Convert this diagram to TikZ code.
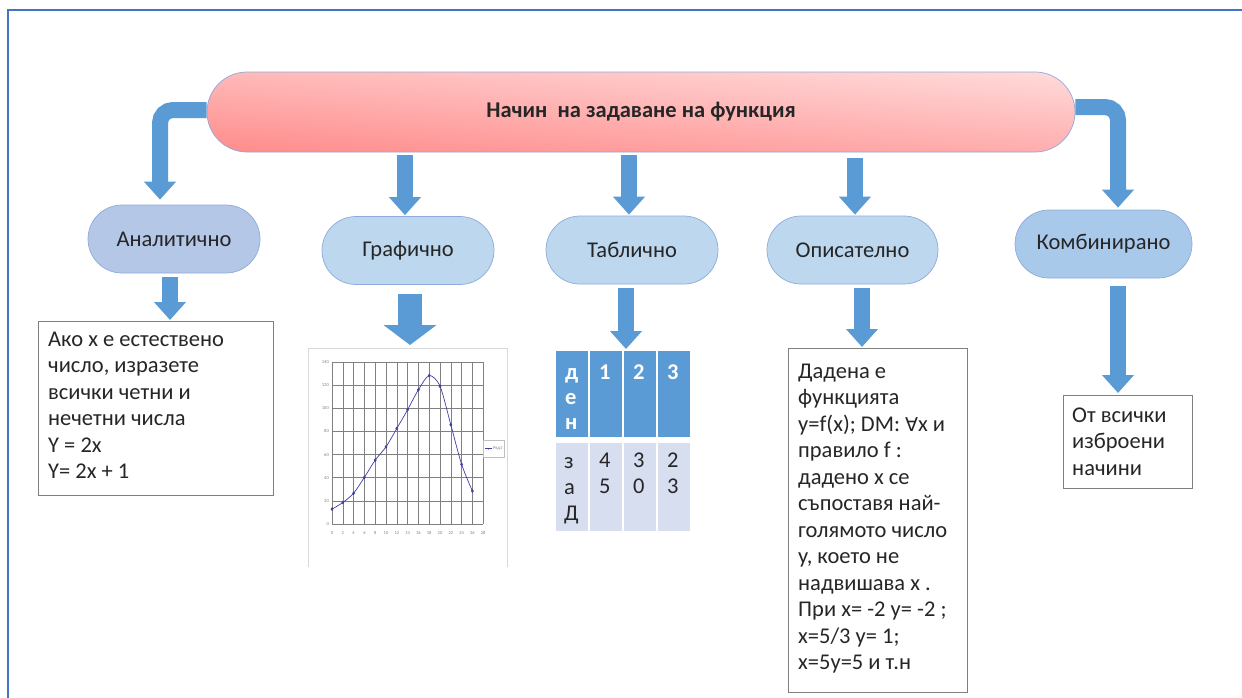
\documentclass[tikz,border=0pt]{standalone}
\usepackage{fontspec}
\setmainfont{Carlito}
\newfontfamily\dejavu{DejaVu Sans}
\usetikzlibrary{arrows.meta,calc,plotmarks}
\definecolor{frameblue}{HTML}{4472C4}
\definecolor{arrowblue}{HTML}{5B9BD5}
\definecolor{pillA}{HTML}{B4C7E7}
\definecolor{pillB}{HTML}{BDD7EE}
\definecolor{pillC}{HTML}{A9C9EA}
\definecolor{pillborder}{HTML}{8EAADB}
\definecolor{pinktop}{HTML}{FFD8D8}
\definecolor{pinkbot}{HTML}{FF8E8E}
\definecolor{boxborder}{HTML}{7F7F7F}
\definecolor{cellhead}{HTML}{5B9BD5}
\definecolor{cellbody}{HTML}{D6DEEF}
\definecolor{gridgrey}{HTML}{808080}
\definecolor{curveblue}{HTML}{3F3FA0}
\definecolor{txt}{HTML}{262626}
\begin{document}
\begin{tikzpicture}[x=1pt,y=-1pt,
  pill/.style={draw=pillborder, line width=0.7pt, rounded corners=34pt, minimum width=172pt, minimum height=68pt, inner sep=0pt, font=\fontsize{22.5}{26}\selectfont, text=txt},
  blk/.style={draw=arrowblue, line width=16pt, -{Triangle[width=31pt,length=18pt]}},
  bigblk/.style={draw=arrowblue, line width=24pt, -{Triangle[width=52pt,length=20pt]}},
  tbox/.style={draw=boxborder, line width=0.8pt, anchor=north west, inner sep=0pt},
  btext/.style={anchor=base west, align=left, inner sep=0pt, text=txt, font=\fontsize{22.5}{26.5}\selectfont},
  hcell/.style={fill=cellhead, anchor=north west, inner sep=0pt, minimum width=32pt, minimum height=86pt},
  bcell/.style={fill=cellbody, anchor=north west, inner sep=0pt, minimum width=32pt, minimum height=88pt},
  htext/.style={anchor=base west, align=left, inner sep=0pt, text=white, font=\bfseries\fontsize{22.5}{25}\selectfont},
  ctext/.style={anchor=base west, align=left, inner sep=0pt, text=txt, font=\fontsize{22.5}{26}\selectfont},
  tiny/.style={inner sep=0pt, text=gray, font=\fontsize{4.5}{5}\selectfont}
]
\useasboundingbox (0,0) rectangle (1242,697);
\fill[white] (0,0) rectangle (1242,697);
\begin{scope}
\clip (0,0) rectangle (1242,697);
\draw[frameblue, line width=2.5pt] (8,10) rectangle (1270,720);
\end{scope}

% title
\node[draw=pillborder, line width=0.7pt, rounded corners=40pt, minimum width=868pt, minimum height=80pt,
  top color=pinktop, bottom color=pinkbot, shading angle=-4, font=\bfseries\fontsize{22.5}{26}\selectfont, text=txt] (title) at (641,112) {Начин\ \ на задаване на функция};

% category pills
\node[pill, fill=pillA] (analit) at (174,239) {Аналитично};
\node[pill, fill=pillB] (graf) at (408,250.5) {Графично};
\node[pill, fill=pillB] (tabl) at (632,250) {Таблично};
\node[pill, fill=pillB, minimum width=171pt] (opis) at (852.5,250) {Описателно};
\node[pill, fill=pillC, minimum width=177pt] (komb) at (1103.5,244) {Комбинирано};

% boxes (text nodes anchored at the baseline of their last line)
\node[tbox, minimum width=235pt, minimum height=174pt] (abox) at (38,321) {};
\node[btext] at ($(abox.north west)+(10,157.5)$) {Ако x е естествено\\число, изразете\\всички четни и\\нечетни числа\\Y = 2x\\Y= 2x + 1};

\node[tbox, minimum width=179pt, minimum height=344pt] (obox) at (788,348) {};
\node[btext] at ($(obox.north west)+(10,321.5)$) {Дадена е\\функцията\\y=f(x); DM: {\dejavu\fontsize{19}{26}\selectfont ∀}x и\\правило f :\\дадено x се\\съпоставя най-\\голямото число\\y, което не\\надвишава x .\\При x= -2 y= -2 ;\\x=5/3 y= 1;\\x=5y=5 и т.н};

\node[tbox, minimum width=129pt, minimum height=93pt] (kbox) at (1063,395) {};
\node[btext] at ($(kbox.north west)+(9,80)$) {От всички\\изброени\\начини};

% graph
\node[anchor=north west, inner sep=0pt, minimum width=199pt, minimum height=219pt] (gframe) at (308,348) {};
\draw[black!15, line width=0.8pt] (gframe.south west) -- (gframe.north west) -- (gframe.north east) -- (gframe.south east);
\foreach \v in {0,20,...,140} {
  \draw[gridgrey, line width=0.6pt] (332,{524-\v*1.157}) -- (483,{524-\v*1.157});
  \node[tiny, anchor=east] at (329,{524-\v*1.157}) {\v};
}
\foreach \i in {0,...,14} {
  \draw[gridgrey, line width=0.6pt] ({332+\i*10.8},362) -- ({332+\i*10.8},524);
  \pgfmathtruncatemacro{\lab}{2*\i}
  \node[tiny] at ({332+\i*10.8},533) {\lab};
}
\draw[curveblue, line width=0.7pt, mark=diamond*, mark size=1.3pt, mark options={fill=curveblue}] plot[smooth] coordinates {
(332,509.1) (342.8,502.5) (353.6,493.2) (364.4,477.3) (375.2,460.1) (386,446.8) (396.8,428.5)
(407.6,409.7) (418.4,389.8) (429.2,375.6) (440,386.2) (450.8,424.7) (461.6,464.3) (472.4,491.0)};
\node[draw=black!25, fill=white, line width=0.4pt, anchor=north west, minimum width=21pt, minimum height=17pt, inner sep=0pt] (legend) at (483,440) {};
\draw[curveblue, line width=0.5pt] ($(legend.west)+(2,0)$) -- ($(legend.west)+(9,0)$);
\fill[curveblue] ($(legend.west)+(5.5,0)$) circle (0.9pt);
\node[tiny, anchor=west] at ($(legend.west)+(10,0)$) {Ряд1};

% table
\node[hcell] (h1) at (556,351) {};
\node[hcell] (h2) at (590,351) {};
\node[hcell] (h3) at (624,351) {};
\node[hcell] (h4) at (658,351) {};
\node[bcell] (b1) at (556,443) {};
\node[bcell] (b2) at (590,443) {};
\node[bcell] (b3) at (624,443) {};
\node[bcell] (b4) at (658,443) {};
\node[htext] at ($(h1.north west)+(9,78)$) {д\\е\\н};
\node[htext] at ($(h2.north west)+(9,28)$) {1};
\node[htext] at ($(h3.north west)+(9,28)$) {2};
\node[htext] at ($(h4.north west)+(9,28)$) {3};
\node[ctext] at ($(b1.north west)+(8,77)$) {з\\а\\Д};
\node[ctext] at ($(b2.north west)+(9,50)$) {4\\5};
\node[ctext] at ($(b3.north west)+(9,50)$) {3\\0};
\node[ctext] at ($(b4.north west)+(9,50)$) {2\\3};

% arrows from title
\draw[blk, rounded corners=13pt] ($(title.west)+(0,-2)$) -| ($(analit.north)+(-14,-5)$);
\draw[blk, rounded corners=13pt] ($(title.east)+(0,-5)$) -| ($(komb.north)+(14.5,-2)$);
\draw[blk] ($(title.south -| graf.north)+(-3,3)$) -- ($(graf.north)+(-3,-1)$);
\draw[blk] ($(title.south -| tabl.north)+(-3,3)$) -- ($(tabl.north)+(-3,-1)$);
\draw[blk] ($(title.south -| opis.north)+(2.5,6)$) -- ($(opis.north)+(2.5,-1)$);

% arrows to content
\draw[blk] ($(analit.south)+(-4,4)$) -- ($(analit.south |- abox.north)+(-4,-1)$);
\draw[bigblk] ($(graf.south)+(2,9)$) -- ($(graf.south |- gframe.north)+(2,-3)$);
\draw[blk] ($(tabl.south)+(-6,4)$) -- ($(tabl.south |- h1.north)+(-6,-2)$);
\draw[blk] ($(opis.south)+(9.5,4)$) -- ($(opis.south |- obox.north)+(9.5,-1)$);
\draw[blk] ($(komb.south)+(14.5,8)$) -- ($(komb.south |- kbox.north)+(14.5,-2)$);
\end{tikzpicture}
\end{document}
